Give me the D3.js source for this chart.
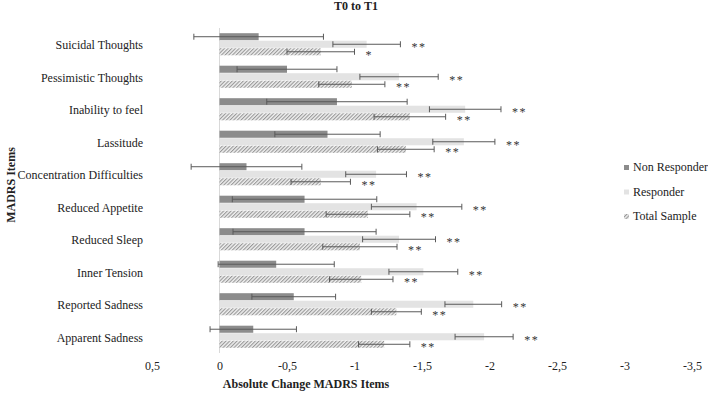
<!DOCTYPE html>
<html>
<head>
<meta charset="utf-8">
<script src="https://cdn.jsdelivr.net/npm/d3@7"></script>
<style>
  body { margin: 0; background: #fff; }
  svg text { font-family: "Liberation Serif", "Times New Roman", serif; fill: #222; }
</style>
</head>
<body>
<div id="draw_here"></div>
<script type="text/javascript">
    // Data
    cats = ["Suicidal Thoughts", "Pessimistic Thoughts", "Inability to feel", "Lassitude",
            "Concentration Difficulties", "Reduced Appetite", "Reduced Sleep", "Inner Tension",
            "Reported Sadness", "Apparent Sadness"]
    series = ["Non Responder", "Responder", "Total Sample"]

    nonResp    = [-0.29, -0.50, -0.87, -0.80, -0.20, -0.63, -0.63, -0.42, -0.55, -0.25]
    nonRespErr = [0.48, 0.37, 0.52, 0.39, 0.41, 0.535, 0.53, 0.43, 0.31, 0.32]
    resp       = [-1.09, -1.33, -1.82, -1.81, -1.16, -1.46, -1.33, -1.51, -1.88, -1.96]
    respErr    = [0.25, 0.29, 0.265, 0.23, 0.225, 0.335, 0.27, 0.255, 0.21, 0.215]
    total      = [-0.75, -0.98, -1.41, -1.38, -0.75, -1.10, -1.04, -1.05, -1.31, -1.22]
    totalErr   = [0.25, 0.245, 0.265, 0.21, 0.22, 0.31, 0.275, 0.235, 0.185, 0.19]
    respSig    = ["**", "**", "**", "**", "**", "**", "**", "**", "**", "**"]
    totalSig   = ["*", "**", "**", "**", "**", "**", "**", "**", "**", "**"]
    nonRespSig = ["", "", "", "", "", "", "", "", "", ""]

    xTicks = [0.5, 0, -0.5, -1, -1.5, -2, -2.5, -3, -3.5]

    canvas = ({width: 708, height: 396})

    // one row per bar
    rows = []
    cats.forEach((c, i) => {
        rows.push({cat: c, s: series[0], v: nonResp[i], e: nonRespErr[i], sig: nonRespSig[i]})
        rows.push({cat: c, s: series[1], v: resp[i], e: respErr[i], sig: respSig[i]})
        rows.push({cat: c, s: series[2], v: total[i], e: totalErr[i], sig: totalSig[i]})
    })

    var svg = d3.select("div#draw_here").append("svg")
        .attr("width", canvas.width)
        .attr("height", canvas.height)

    // hatch pattern for Total Sample
    var defs = svg.append("defs")
    defs.append("pattern")
        .attr("id", "hatch")
        .attr("patternUnits", "userSpaceOnUse")
        .attr("width", 2.6)
        .attr("height", 2.6)
        .attr("patternTransform", "rotate(45)")
        .call(p => {
            p.append("rect").attr("width", 2.6).attr("height", 2.6).attr("fill", "#f0f0f0")
            p.append("rect").attr("width", 1.1).attr("height", 2.6).attr("fill", "#979797")
        })

    fills = {"Non Responder": "#8c8c8c", "Responder": "#e3e3e3", "Total Sample": "url(#hatch)"}

    // Scales
    x = d3.scaleLinear()
        .domain([0.5, -3.5])
        .range([152, 692])

    y0 = d3.scaleBand()
        .domain(cats)
        .range([28, 353])
        .paddingInner(0.32)
        .paddingOuter(0.16)

    y1 = d3.scaleBand()
        .domain(series)
        .range([0, y0.bandwidth()])
        .paddingInner(0.06)

    fmt = d => String(d).replace(".", ",")

    // zero line
    svg.append("line")
        .attr("x1", x(0)).attr("x2", x(0))
        .attr("y1", y0.range()[0]).attr("y2", y0.range()[1])
        .attr("stroke", "#d9d9d9")
        .attr("stroke-width", 1)

    // x axis labels (no line, no ticks)
    xAxis = g => g
        .attr("transform", `translate(0,${366})`)
        .call(d3.axisBottom(x).tickValues(xTicks).tickFormat(fmt).tickSize(0).tickPadding(0))
        .call(g => g.select(".domain").remove())
        .call(g => g.selectAll("text")
            .attr("font-size", 12)
            .attr("dy", "0.35em"))

    svg.append("g").call(xAxis)

    // y axis labels
    yAxis = g => g
        .attr("transform", `translate(${143},0)`)
        .call(d3.axisLeft(y0).tickSize(0).tickPadding(0))
        .call(g => g.select(".domain").remove())
        .call(g => g.selectAll("text")
            .attr("font-size", 12)
            .attr("dy", "0.4em"))

    svg.append("g").call(yAxis)

    // bars
    var bars = svg.append("g")
    bars.selectAll("rect")
        .data(rows)
        .join("rect")
        .attr("x", d => Math.min(x(0), x(d.v)))
        .attr("width", d => Math.abs(x(d.v) - x(0)))
        .attr("y", d => y0(d.cat) + y1(d.s))
        .attr("height", y1.bandwidth())
        .attr("fill", d => fills[d.s])

    // error bars
    cy = d => y0(d.cat) + y1(d.s) + y1.bandwidth() / 2
    capH = 3

    var errs = svg.append("g")
        .attr("stroke", "#5a5a5a")
        .attr("stroke-width", 1)
    errs.selectAll("line.err")
        .data(rows)
        .join("line")
        .attr("class", "err")
        .attr("x1", d => x(d.v + d.e)).attr("x2", d => x(d.v - d.e))
        .attr("y1", cy).attr("y2", cy)
    errs.selectAll("line.capl")
        .data(rows)
        .join("line")
        .attr("class", "capl")
        .attr("x1", d => x(d.v + d.e)).attr("x2", d => x(d.v + d.e))
        .attr("y1", d => cy(d) - capH).attr("y2", d => cy(d) + capH)
    errs.selectAll("line.capr")
        .data(rows)
        .join("line")
        .attr("class", "capr")
        .attr("x1", d => x(d.v - d.e)).attr("x2", d => x(d.v - d.e))
        .attr("y1", d => cy(d) - capH).attr("y2", d => cy(d) + capH)

    // significance stars
    svg.append("g")
        .selectAll("text")
        .data(rows.filter(d => d.sig))
        .join("text")
        .attr("x", d => x(d.v - d.e) + 11)
        .attr("y", d => cy(d) + 7)
        .attr("font-size", 12)
        .attr("letter-spacing", 1.5)
        .style("fill", "#333")
        .text(d => d.sig)

    // titles
    svg.append("text")
        .attr("x", 356).attr("y", 10)
        .attr("text-anchor", "middle")
        .attr("font-size", 12)
        .attr("font-weight", "bold")
        .text("T0 to T1")

    svg.append("text")
        .attr("x", 306).attr("y", 388)
        .attr("text-anchor", "middle")
        .attr("font-size", 12)
        .attr("font-weight", "bold")
        .text("Absolute Change MADRS Items")

    svg.append("text")
        .attr("transform", `translate(15,${185}) rotate(-90)`)
        .attr("text-anchor", "middle")
        .attr("font-size", 12)
        .attr("font-weight", "bold")
        .text("MADRS Items")

    // legend
    var legend = svg.append("g")
        .selectAll("g")
        .data(series)
        .join("g")
        .attr("transform", (d, i) => `translate(624,${171 + i * 24.5})`)
    legend.append("rect")
        .attr("x", 0).attr("y", -6)
        .attr("width", 5).attr("height", 5)
        .attr("fill", d => fills[d])
    legend.append("text")
        .attr("x", 9).attr("y", 0)
        .attr("font-size", 12)
        .text(d => d)
</script>
</body>
</html>
